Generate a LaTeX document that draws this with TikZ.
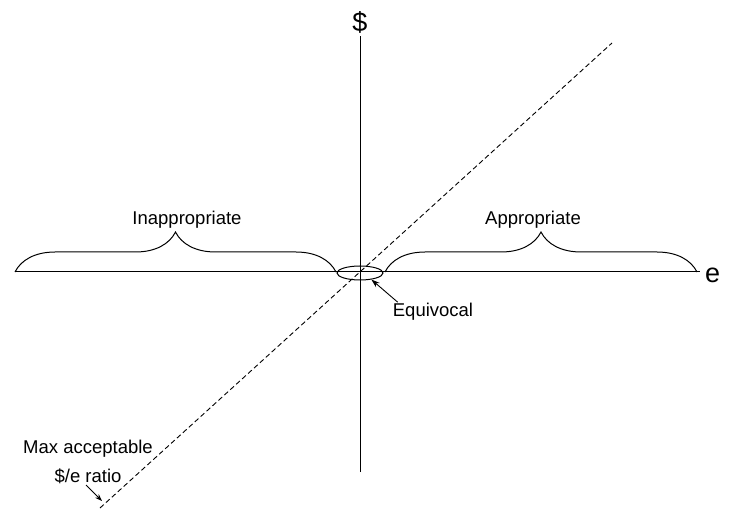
\documentclass[tikz,border=0pt]{standalone}
\usepackage{fontspec}
\setmainfont{Liberation Sans}
\usetikzlibrary{positioning,arrows.meta,decorations.pathreplacing,shapes.geometric}

\begin{document}
\begin{tikzpicture}[
  x=1pt, y=-1pt,
  every node/.style={font=\fontsize{18.5}{22}\selectfont, inner sep=1pt},
  axis/.style={line width=1pt},
  ratio/.style={dash pattern=on 5pt off 3pt, line width=0.9pt},
  bracegroup/.style={decorate, decoration={brace, amplitude=40pt}, line width=1pt},
  arrow/.style={-{Stealth[length=3mm, width=2mm]}, line width=0.9pt}
]
\useasboundingbox (0,0) rectangle (730,510);

% axes
\coordinate (xl) at (15,272);
\coordinate (xr) at (700,272);
\coordinate (yt) at (360,36);
\coordinate (yb) at (360,472);
\draw[axis] (xl) -- (xr);
\draw[axis] (yb) -- (yt);
\node[font=\fontsize{27}{30}\selectfont, above=1pt of yt] (dollar) {\$};
\node[font=\fontsize{27}{30}\selectfont, right=4pt of xr, yshift=-3pt] (e) {e};

% max ratio line
\coordinate (rb) at (100,508);
\coordinate (rt) at (612,43);
\draw[ratio] (rb) -- (rt);

% equivocal zone
\node[draw, ellipse, line width=1pt, minimum width=46pt, minimum height=14pt, inner sep=0pt] (zone) at (360,273) {};
\node (equiv) at (433,312) {Equivocal};
\draw[arrow] ([xshift=6pt]equiv.north west) -- (zone.-30);

% braces
\coordinate (il) at (15,272);
\coordinate (ir) at (336,272);
\coordinate (al) at (385,272);
\coordinate (ar) at (697,272);
\draw[bracegroup] (il) -- (ir);
\draw[bracegroup] (al) -- (ar);
\node[anchor=south] (inapp) at (187,230) {Inappropriate};
\node[anchor=south] (app) at (533,230) {Appropriate};

% ratio label
\node[align=center] (maxlbl) at (88,462) {Max acceptable\\[7pt]\$/e ratio};
\coordinate (rp) at (102,501);
\draw[arrow, -{Stealth[length=2.5mm, width=1.8mm]}] ([xshift=-2pt]maxlbl.south) -- (rp);
\end{tikzpicture}
\end{document}
